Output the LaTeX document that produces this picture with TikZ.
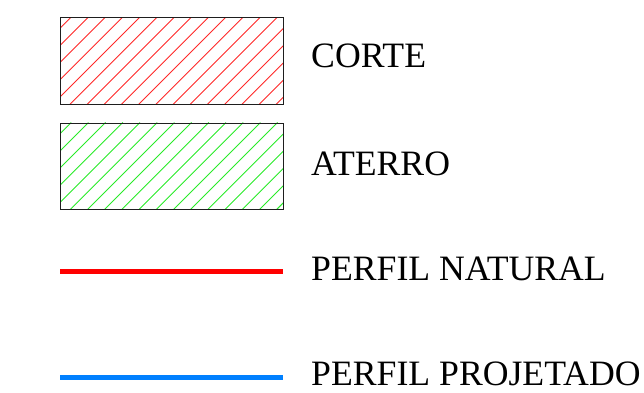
\documentclass[tikz,border=0pt]{standalone}
\usepackage{fontspec}
\setmainfont{Liberation Serif}
\definecolor{hatchR}{RGB}{255,40,40}
\definecolor{hatchG}{RGB}{40,235,40}
\definecolor{lineR}{RGB}{255,0,0}
\definecolor{lineB}{RGB}{0,128,255}
\definecolor{frameC}{RGB}{30,30,30}
\tikzset{
  legendbox/.style={draw=frameC, line width=1pt, minimum width=223pt, minimum height=86.5pt, inner sep=0pt, anchor=north west},
  legendtext/.style={anchor=base west, inner sep=0pt, font=\fontsize{35.7}{40}\selectfont},
  hatchline/.style={line width=0.9pt},
  legendline/.style={line width=5pt}
}
\begin{document}
\begin{tikzpicture}[x=1pt,y=-1pt]
\useasboundingbox (0,0) rectangle (644,392);
% boxes
\node[legendbox] (corte) at (60,17) {};
\node[legendbox] (aterro) at (60,122.5) {};
% hatching
\begin{scope}
\clip (60,17) rectangle (283,103.5);
\foreach \c in {71,88.2,...,420} \draw[hatchline, hatchR] ({\c-17},17) -- ({\c-17-90},{17+90});
\end{scope}
\begin{scope}
\clip (60,122.5) rectangle (283,209);
\foreach \c in {71,88.2,...,420} \draw[hatchline, hatchG] ({\c-17},122.5) -- ({\c-17-90},{122.5+90});
\end{scope}
\node[legendbox] at (60,17) {};
\node[legendbox] at (60,122.5) {};
% lines
\coordinate (nat1) at (60,271.5);
\coordinate (nat2) at (283,271.5);
\coordinate (proj1) at (60,377.5);
\coordinate (proj2) at (283,377.5);
\draw[legendline, lineR] (nat1) -- (nat2);
\draw[legendline, lineB] (proj1) -- (proj2);
% texts
\node[legendtext] (tcorte) at (311,67.3) {CORTE};
\node[legendtext] (taterro) at (311,175) {ATERRO};
\node[legendtext] (tnat) at (311,280) {PERFIL NATURAL};
\node[legendtext] (tproj) at (311,385) {PERFIL PROJETADO};
\end{tikzpicture}
\end{document}
